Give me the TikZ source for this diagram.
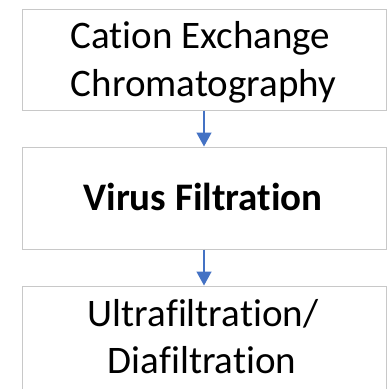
\documentclass[tikz,border=0pt]{standalone}
\usepackage{fontspec}
\setmainfont[Ligatures={NoCommon}]{Carlito}
\usetikzlibrary{arrows.meta}
\definecolor{boxgray}{RGB}{200,200,200}
\definecolor{flowblue}{RGB}{68,114,196}
\begin{document}
\begin{tikzpicture}[x=1pt,y=-1pt,
  stepbox/.style={draw=boxgray,line width=1pt,fill=white,minimum width=364pt,inner sep=0pt},
  steptext/.style={anchor=base,inner sep=0pt,font=\fontsize{39}{48}\selectfont},
  flow/.style={draw=flowblue,line width=1.4pt,-{Triangle[length=14pt,width=15pt]}}]
  \useasboundingbox (0,0) rectangle (390,388);
  \begin{scope}
    \clip (0,0) rectangle (390,388);
    % process boxes
    \node[stepbox,minimum height=101pt] (cex) at (204,59.5) {};
    \node[stepbox,minimum height=102pt] (vf) at (204,198) {};
    \node[stepbox,minimum height=120pt] (ufdf) at (204,346) {};
    % labels
    \node[steptext] (cexA) at (200.5,48.3) {Cation Exchange};
    \node[steptext] (cexB) at (203.4,96.7) {Chromatography};
    \node[steptext,font=\fontsize{39}{48}\selectfont\bfseries] (vfT) at (203,210) {Virus Filtration};
    \node[steptext] (ufA) at (203,326) {Ultrafiltration/};
    \node[steptext] (ufB) at (202.2,373.3) {Diafiltration};
  \end{scope}
  % connectors
  \draw[flow] (cex.south) -- (vf.north);
  \draw[flow] (vf.south) -- (ufdf.north);
\end{tikzpicture}
\end{document}
